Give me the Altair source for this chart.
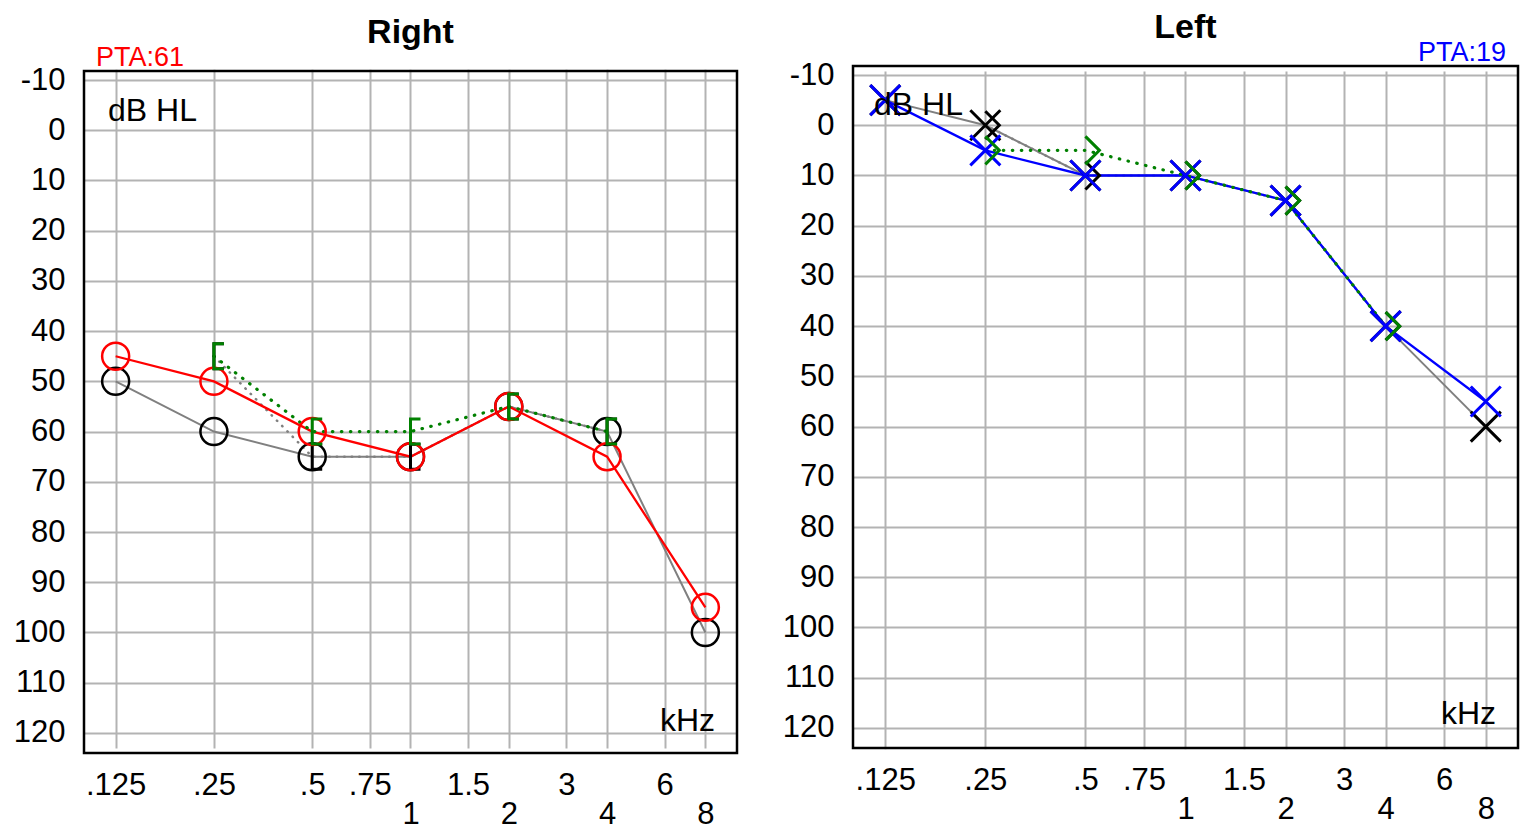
import altair as alt
import pandas as pd

# ---------------- data ----------------
FREQS = [0.125, 0.25, 0.5, 0.75, 1, 1.5, 2, 3, 4, 6, 8]
LABELS_TOP = [".125", ".25", ".5", ".75", "", "1.5", "", "3", "", "6", ""]
LABELS_BOTTOM = ["", "", "", "", "1", "", "2", "", "4", "", "8"]
DB_TICKS = list(range(-10, 121, 10))

AC_FREQ = [0.125, 0.25, 0.5, 1, 2, 4, 8]
BC_FREQ = [0.25, 0.5, 1, 2, 4]

RIGHT_AC = [45, 50, 60, 65, 55, 65, 95]
RIGHT_AC_PREV = [50, 60, 65, 65, 55, 60, 100]
RIGHT_BC = [45, 60, 60, 55, 60]
RIGHT_BC_PREV = [45, 65, 65, 55, 60]

LEFT_AC = [-5, 5, 10, 10, 15, 40, 55]
LEFT_AC_PREV = [-5, 0, 10, 10, 15, 40, 60]
LEFT_BC = [5, 5, 10, 15, 40]
LEFT_BC_PREV = [0, 10, 10, 15, 40]

TITLE_RIGHT = "Right"
TITLE_LEFT = "Left"
PTA_RIGHT = "PTA:61"
PTA_LEFT = "PTA:19"
Y_UNIT = "dB HL"
X_UNIT = "kHz"

# ---------------- style ----------------
FONT = "Liberation Sans, Arial, Helvetica, sans-serif"
GRID = "#b3b3b3"
GRAY = "#808080"
GREEN = "#008000"
FRAME_H = 682     # frame height of each panel
SHIFT = 5         # right panel sits 5px lower than the left one
VIEW_H = FRAME_H + SHIFT

BRACKET = "M 0.8 -1 L 0 -1 L 0 1 L 0.8 1"
CHEVRON = "M 0 -1 L 1 0 L 0 1"
XSHAPE = "M -1 -1 L 1 1 M -1 1 L 1 -1"

pairs = "[" + ",".join("['%s','%s']" % (t, b) for t, b in zip(LABELS_TOP, LABELS_BOTTOM)) + "]"
x_label_expr = "%s[indexof(%s, datum.value)]" % (pairs, str(FREQS))


def xenc(label_pad):
    return alt.X(
        "f:Q",
        scale=alt.Scale(type="log", domain=[0.1, 10], nice=False),
        axis=alt.Axis(
            values=FREQS, labelExpr=x_label_expr, grid=True, ticks=False, domain=False,
            title=None, labelFontSize=31, labelBaseline="top", labelPadding=label_pad,
            labelLineHeight=29, labelOverlap=False, labelFlush=False,
        ),
    )


def yenc(top):
    return alt.Y(
        "db:Q",
        scale=alt.Scale(domain=[-11.8, 124], range=[top, top + FRAME_H], nice=False, zero=False),
        axis=alt.Axis(
            values=DB_TICKS, labelExpr="'' + datum.value", grid=True, ticks=False,
            domain=False, title=None, labelFontSize=31, labelBaseline="middle",
            labelPadding=19, labelOverlap=False, labelFlush=False,
        ),
    )


def panel(title, ac, ac_prev, bc, bc_prev, ac_color, ac_shape, ac_size, ac_sw,
          bc_shape, bc_size, pta, pta_align, pta_x, width, top, dbhl_xy, khz_dy):
    ac_df = pd.DataFrame({"f": AC_FREQ, "db": ac})
    acp_df = pd.DataFrame({"f": AC_FREQ, "db": ac_prev})
    bc_df = pd.DataFrame({"f": BC_FREQ, "db": bc})
    bcp_df = pd.DataFrame({"f": BC_FREQ, "db": bc_prev})
    one = pd.DataFrame({"a": [0]})
    bottom = top + FRAME_H
    lpad = 17 - (VIEW_H - bottom)
    X = lambda: xenc(lpad)
    Y = lambda: yenc(top)

    guard = alt.Chart(one).mark_rule(color="white", strokeWidth=1).encode(
        x=alt.value(0), x2=alt.value(1), y=alt.value(-57))
    # hide grid stubs outside the frame
    cover_top = alt.Chart(one).mark_rect(color="white").encode(
        x=alt.value(-2), x2=alt.value(width + 2), y=alt.value(-1), y2=alt.value(top - 1.2))
    cover_bot = alt.Chart(one).mark_rect(color="white").encode(
        x=alt.value(-2), x2=alt.value(width + 2), y=alt.value(bottom + 1.2), y2=alt.value(VIEW_H + 1))
    frame = alt.Chart(one).mark_rect(fill=None, fillOpacity=0, stroke="black", strokeWidth=2.5).encode(
        x=alt.value(0), x2=alt.value(width), y=alt.value(top), y2=alt.value(bottom))

    prev_line = alt.Chart(acp_df).mark_line(color=GRAY, strokeWidth=2).encode(x=X(), y=Y())
    prev_bc_line = alt.Chart(bcp_df).mark_line(
        color=GRAY, strokeWidth=2.5, strokeDash=[0.5, 7], strokeCap="round").encode(x=X(), y=Y())
    ac_line = alt.Chart(ac_df).mark_line(color=ac_color, strokeWidth=2.3).encode(x=X(), y=Y())
    bc_line = alt.Chart(bc_df).mark_line(
        color=GREEN, strokeWidth=3.2, strokeDash=[0.5, 8.5], strokeCap="round").encode(x=X(), y=Y())

    prev_bc_pts = alt.Chart(bcp_df).mark_point(
        shape=bc_shape, size=bc_size, color="black", strokeWidth=3, opacity=1).encode(x=X(), y=Y())
    prev_ac_pts = alt.Chart(acp_df).mark_point(
        shape=ac_shape, size=ac_size, color="black", strokeWidth=ac_sw, opacity=1).encode(x=X(), y=Y())
    ac_pts = alt.Chart(ac_df).mark_point(
        shape=ac_shape, size=ac_size, color=ac_color, strokeWidth=ac_sw, opacity=1).encode(x=X(), y=Y())
    bc_pts = alt.Chart(bc_df).mark_point(
        shape=bc_shape, size=bc_size, color=GREEN, strokeWidth=3, opacity=1).encode(x=X(), y=Y())

    t_title = alt.Chart(one).mark_text(
        text=title, font=FONT, fontSize=34, fontWeight="bold", color="black",
        align="center", baseline="middle").encode(x=alt.value(width / 2), y=alt.value(top - 38))
    t_pta = alt.Chart(one).mark_text(
        text=pta, font=FONT, fontSize=27, color=ac_color, align=pta_align,
        baseline="alphabetic").encode(x=alt.value(pta_x), y=alt.value(top - 5))
    t_db = alt.Chart(one).mark_text(
        text=Y_UNIT, font=FONT, fontSize=32, color="black", align="left",
        baseline="middle").encode(x=alt.value(dbhl_xy[0]), y=alt.value(top + dbhl_xy[1]))
    t_khz = alt.Chart(one).mark_text(
        text=X_UNIT, font=FONT, fontSize=32, color="black", align="right",
        baseline="alphabetic").encode(x=alt.value(width - 22), y=alt.value(bottom - khz_dy))

    return alt.layer(
        guard, cover_top, cover_bot, frame,
        prev_line, prev_bc_line, ac_line, bc_line,
        prev_bc_pts, prev_ac_pts, ac_pts, bc_pts,
        t_title, t_pta, t_db, t_khz,
    ).properties(width=width, height=VIEW_H)


right = panel(TITLE_RIGHT, RIGHT_AC, RIGHT_AC_PREV, RIGHT_BC, RIGHT_BC_PREV,
              "#ff0000", "circle", 729, 2.5, BRACKET, 625, PTA_RIGHT, "left", 12,
              653, SHIFT, (24, 40), 22)
left = panel(TITLE_LEFT, LEFT_AC, LEFT_AC_PREV, LEFT_BC, LEFT_BC_PREV,
             "#0000ff", XSHAPE, 900, 3, CHEVRON, 784, PTA_LEFT, "right", 665 - 12,
             665, 0, (21, 39), 24)

chart = (
    alt.hconcat(right, left, spacing=43)
    .properties(padding={"left": 5, "top": 0, "right": 0, "bottom": 0})
    .configure_view(strokeWidth=0, stroke=None)
    .configure_axis(labelFont=FONT, labelColor="black", gridColor=GRID, gridWidth=2,
                    gridOpacity=1)
)

chart.save("out.html", embed_options={"renderer": "svg", "actions": False})
